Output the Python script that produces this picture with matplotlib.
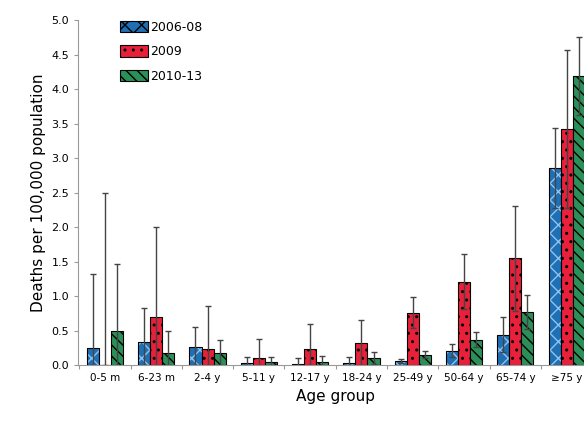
import numpy as np
import matplotlib.pyplot as plt

groups = ["0-5 m", "6-23 m", "2-4 y", "5-11 y", "12-17 y", "18-24 y", "25-49 y", "50-64 y", "65-74 y", "≥75 y"]
v0608 = [0.25, 0.33, 0.26, 0.03, 0.02, 0.03, 0.06, 0.21, 0.44, 2.86]
u0608 = [1.32, 0.83, 0.55, 0.12, 0.10, 0.11, 0.09, 0.31, 0.69, 3.44]
v2009 = [0.0, 0.69, 0.24, 0.10, 0.24, 0.32, 0.76, 1.21, 1.55, 3.42]
u2009 = [2.50, 2.00, 0.86, 0.38, 0.60, 0.66, 0.98, 1.61, 2.31, 4.56]
v1013 = [0.50, 0.17, 0.17, 0.05, 0.04, 0.10, 0.15, 0.37, 0.77, 4.19]
u1013 = [1.46, 0.49, 0.37, 0.12, 0.13, 0.19, 0.20, 0.48, 1.02, 4.76]

series = [("2006-08", v0608, u0608, "#1f6fb5", "xx", "#8fc3ee"),
          ("2009", v2009, u2009, "#e8203a", "..", "black"),
          ("2010-13", v1013, u1013, "#2a9058", "\\\\\\", "black")]

fig = plt.figure(figsize=(5.84, 4.28), dpi=100)
ax = fig.add_axes([0.134, 0.147, 0.882, 0.806])
x = np.arange(len(groups))
w = 0.235
for i, (lab, v, u, col, h, hc) in enumerate(series):
    v = np.array(v); u = np.array(u)
    lo = np.minimum(u - v, v)
    pos = x + (i - 1) * w
    ax.bar(pos, v, w, color=col, hatch=h, edgecolor=hc, linewidth=0, label=lab)
    ax.bar(pos, v, w, fill=False, edgecolor="black", linewidth=0.8)
    ax.errorbar(pos, v, yerr=[lo, u - v], fmt="none", ecolor="#444444", elinewidth=1, capsize=2)

ax.set_xlim(-0.52, 9.52)
ax.set_ylim(0, 5)
ax.set_yticks(np.arange(0, 5.01, 0.5))
ax.set_yticklabels([f"{t:.1f}" for t in np.arange(0, 5.01, 0.5)], fontsize=8)
ax.set_xticks(np.arange(-0.5, 9.6, 1), minor=False)
ax.set_xticklabels([])
for xi, g in zip(x, groups):
    ax.text(xi, -0.12, g, ha="center", va="top", fontsize=7.5)
ax.tick_params(axis="x", length=3, color="#999999")
ax.tick_params(axis="y", length=3, color="#999999")
for s in ["top", "right"]:
    ax.spines[s].set_visible(False)
for s in ["left", "bottom"]:
    ax.spines[s].set_color("#999999")
ax.set_ylabel("Deaths per 100,000 population", fontsize=11)
ax.text(4.5, -0.34, "Age group", ha="center", va="top", fontsize=11)

handles = [plt.Rectangle((0, 0), 1, 1, facecolor=c, hatch=h, edgecolor="black", linewidth=0.8) for _, _, _, c, h, _ in series]
ax.legend(handles, [s[0] for s in series], loc="upper left", bbox_to_anchor=(0.06, 1.03), frameon=False,
          fontsize=9, handlelength=2.2, handleheight=1.0, labelspacing=0.9, handletextpad=0.2)
fig.savefig("out.png")
